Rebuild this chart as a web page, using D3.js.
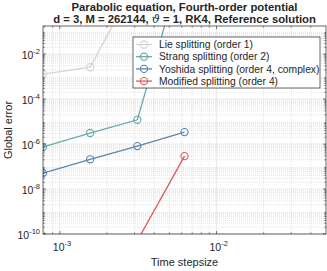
<!DOCTYPE html>
<html lang="en">
<head>
    <meta charset="utf-8">
    <title>Global error vs time stepsize</title>
    <script src="https://d3js.org/d3.v7.min.js"></script>
    <style type="text/css">
        body { margin: 0; background: #fff; }
        text { font-family: "Liberation Sans", Arial, sans-serif; fill: #262626; }
    </style>
</head>
<body>
<script type="text/javascript">
    // chart size
    var w = 327;
    var h = 271;
    var margin = {left: 43, right: 1, top: 26, bottom: 37};

    // time steps, halving from 0.05
    var stepsizes = [0.05/64, 0.05/32, 0.05/16, 0.05/8];
    var lieErr = [1.3e-3, 2.6e-3, 2e1];
    var strangErr = [7.4e-7, 3.1e-6, 1.2e-5, 2e2];
    var yoshidaErr = [5.1e-8, 2.1e-7, 8.1e-7, 3.4e-6];
    var modifiedErr = [null, null, 5e-11, 2.9e-7];
    var seriesNames = ["Lie splitting (order 1)", "Strang splitting (order 2)",
                       "Yoshida splitting (order 4, complex)", "Modified splitting (order 4)"];
    var seriesColors = ["#d4d4d4", "#6aa8a9", "#5a85ad", "#db5b5b"];
    var xTicks = [1e-3, 1e-2];
    var yTicks = [1e-10, 1e-8, 1e-6, 1e-4, 1e-2];

    var allSeries = [lieErr, strangErr, yoshidaErr, modifiedErr];

    var svg = d3.select("body").append("svg")
        .attr("width", w)
        .attr("height", h);

    var x = d3.scaleLog()
        .domain([0.05/64, 0.05])
        .range([margin.left, w - margin.right]);
    var y = d3.scaleLog()
        .domain([1e-10, Math.pow(10, -0.75)])
        .range([h - margin.bottom, margin.top]);

    var x0 = x.range()[0], x1 = x.range()[1];
    var y0 = y.range()[0], y1 = y.range()[1];

    // minor + major grid
    var minorX = [], minorY = [];
    for (var e = -4; e <= -2; e++) {
        for (var m = 2; m <= 9; m++) {
            var v = m * Math.pow(10, e);
            if (v > x.domain()[0] && v < x.domain()[1]) minorX.push(v);
        }
    }
    for (var e2 = -10; e2 <= -1; e2++) {
        for (var m2 = 2; m2 <= 9; m2++) {
            var v2 = m2 * Math.pow(10, e2);
            if (v2 > y.domain()[0] && v2 < y.domain()[1]) minorY.push(v2);
        }
    }

    var grid = svg.append("g");
    grid.selectAll(".mx").data(minorX).enter().append("line")
        .attr("x1", d => x(d)).attr("x2", d => x(d))
        .attr("y1", y0).attr("y2", y1)
        .attr("stroke", "#d2d2d2").attr("stroke-width", 0.6)
        .attr("stroke-dasharray", "1,1");
    grid.selectAll(".my").data(minorY).enter().append("line")
        .attr("y1", d => y(d)).attr("y2", d => y(d))
        .attr("x1", x0).attr("x2", x1)
        .attr("stroke", "#d2d2d2").attr("stroke-width", 0.6)
        .attr("stroke-dasharray", "1,1");
    grid.selectAll(".gx").data(xTicks).enter().append("line")
        .attr("x1", d => x(d)).attr("x2", d => x(d))
        .attr("y1", y0).attr("y2", y1)
        .attr("stroke", "#e3e3e3").attr("stroke-width", 0.7);
    grid.selectAll(".gy").data(yTicks).enter().append("line")
        .attr("y1", d => y(d)).attr("y2", d => y(d))
        .attr("x1", x0).attr("x2", x1)
        .attr("stroke", "#e3e3e3").attr("stroke-width", 0.7);

    // lines and markers
    svg.append("clipPath").attr("id", "clip")
        .append("rect").attr("x", x0).attr("y", y1)
        .attr("width", x1 - x0).attr("height", y0 - y1);

    var plot = svg.append("g").attr("clip-path", "url(#clip)");
    var line = d3.line()
        .defined(d => d[1] != null)
        .x(d => x(d[0]))
        .y(d => y(d[1]));

    allSeries.forEach(function(vals, i) {
        var pts = vals.map((v, k) => [stepsizes[k], v]);
        plot.append("path")
            .attr("d", line(pts))
            .attr("fill", "none")
            .attr("stroke", seriesColors[i])
            .attr("stroke-width", 1.3);
        plot.selectAll(".mk" + i)
            .data(pts.filter(d => d[1] != null))
            .enter().append("circle")
            .attr("cx", d => x(d[0]))
            .attr("cy", d => y(d[1]))
            .attr("r", 3.6)
            .attr("fill", "none")
            .attr("stroke", seriesColors[i])
            .attr("stroke-width", 1.1);
    });

    // axes box
    svg.append("rect")
        .attr("x", x0).attr("y", y1)
        .attr("width", x1 - x0).attr("height", y0 - y1)
        .attr("fill", "none").attr("stroke", "#262626").attr("stroke-width", 0.7);

    // ticks inside on all sides
    var ticks = svg.append("g").attr("stroke", "#262626").attr("stroke-width", 0.6);
    minorX.forEach(function(d) {
        ticks.append("line").attr("x1", x(d)).attr("x2", x(d)).attr("y1", y0).attr("y2", y0 - 1.6);
        ticks.append("line").attr("x1", x(d)).attr("x2", x(d)).attr("y1", y1).attr("y2", y1 + 1.6);
    });
    xTicks.forEach(function(d) {
        ticks.append("line").attr("x1", x(d)).attr("x2", x(d)).attr("y1", y0).attr("y2", y0 - 3);
        ticks.append("line").attr("x1", x(d)).attr("x2", x(d)).attr("y1", y1).attr("y2", y1 + 3);
    });
    minorY.forEach(function(d) {
        ticks.append("line").attr("y1", y(d)).attr("y2", y(d)).attr("x1", x0).attr("x2", x0 + 1.6);
        ticks.append("line").attr("y1", y(d)).attr("y2", y(d)).attr("x1", x1).attr("x2", x1 - 1.6);
    });
    yTicks.forEach(function(d) {
        ticks.append("line").attr("y1", y(d)).attr("y2", y(d)).attr("x1", x0).attr("x2", x0 + 3);
        ticks.append("line").attr("y1", y(d)).attr("y2", y(d)).attr("x1", x1).attr("x2", x1 - 3);
    });

    // tick labels with superscript exponent
    function powLabel(sel, d) {
        var ex = Math.round(Math.log10(d));
        sel.append("tspan").text("10");
        sel.append("tspan").attr("dy", -5).attr("font-size", 7.5).text(String(ex));
    }
    xTicks.forEach(function(d) {
        var t = svg.append("text")
            .attr("x", x(d) - 7).attr("y", y0 + 17)
            .attr("font-size", 10.5);
        powLabel(t, d);
    });
    yTicks.forEach(function(d) {
        var t = svg.append("text")
            .attr("x", x0 - 3).attr("y", y(d) + 5)
            .attr("text-anchor", "end")
            .attr("font-size", 10.5);
        powLabel(t, d);
    });

    // axis labels
    svg.append("text")
        .attr("x", (x0 + x1) / 2).attr("y", 266)
        .attr("text-anchor", "middle").attr("font-size", 11)
        .text("Time stepsize");
    svg.append("text")
        .attr("transform", "translate(12," + ((y0 + y1) / 2) + ") rotate(-90)")
        .attr("text-anchor", "middle").attr("font-size", 11)
        .text("Global error");

    // title
    svg.append("text")
        .attr("x", (x0 + x1) / 2).attr("y", 11)
        .attr("text-anchor", "middle").attr("font-size", 11.3).attr("font-weight", "bold")
        .attr("fill", "#000")
        .text("Parabolic equation, Fourth-order potential");
    var t2 = svg.append("text")
        .attr("x", (x0 + x1) / 2).attr("y", 23)
        .attr("text-anchor", "middle").attr("font-size", 11.3).attr("font-weight", "bold")
        .attr("fill", "#000");
    t2.append("tspan").text("d = 3, M = 262144, ");
    t2.append("tspan").attr("font-style", "italic").attr("font-family", "DejaVu Serif").attr("font-weight", "normal").text("\u03D1");
    t2.append("tspan").text(" = 1, RK4, Reference solution");

    // legend
    var lg = svg.append("g").attr("transform", "translate(133,37)");
    lg.append("rect")
        .attr("width", 187).attr("height", 51)
        .attr("fill", "#fff").attr("stroke", "#262626").attr("stroke-width", 0.7);
    seriesNames.forEach(function(name, i) {
        var yy = 7.5 + i * 12.2;
        lg.append("line").attr("x1", 3).attr("x2", 19).attr("y1", yy).attr("y2", yy)
            .attr("stroke", seriesColors[i]).attr("stroke-width", 1.3);
        lg.append("circle").attr("cx", 11).attr("cy", yy).attr("r", 3.6)
            .attr("fill", "none").attr("stroke", seriesColors[i]).attr("stroke-width", 1.1);
        lg.append("text").attr("x", 26).attr("y", yy + 3.6)
            .attr("font-size", 10.3).text(name);
    });
</script>
</body>
</html>
